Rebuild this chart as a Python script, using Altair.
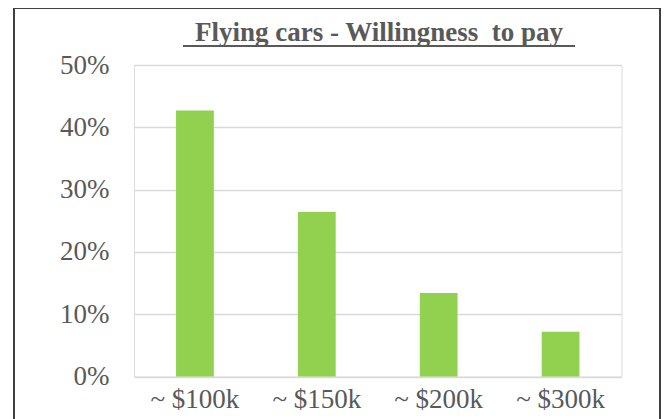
import altair as alt
import pandas as pd

categories = ["~ $100k", "~ $150k", "~ $200k", "~ $300k"]
values = [0.427, 0.264, 0.134, 0.072]
title_text = "Flying cars - Willingness\u00a0\u00a0to pay"
y_ticks = [0, 0.1, 0.2, 0.3, 0.4, 0.5]

df = pd.DataFrame({"price": categories, "share": values})

W, H = 487.5, 311.5
FONT = "Liberation Serif"
GREY = "#595959"

bars = alt.Chart(df).mark_bar(color="#92d050").encode(
    x=alt.X("price:N", sort=categories, title=None,
            scale=alt.Scale(paddingInner=0.69, paddingOuter=0.345),
            axis=alt.Axis(labelAngle=0, domain=False, ticks=False, labelPadding=10,
                          labelFont=FONT, labelFontSize=27, labelColor=GREY)),
    y=alt.Y("share:Q", title=None, scale=alt.Scale(domain=[0, 0.5], nice=False),
            axis=alt.Axis(values=y_ticks, format=".0%", domain=False, ticks=False,
                          labelPadding=25, labelFont=FONT, labelFontSize=27,
                          labelColor=GREY, gridColor="#d9d9d9", gridWidth=1.5)),
)

one = pd.DataFrame({"t": [title_text]})

frame = alt.Chart(one).mark_rect(
    fill="transparent", stroke="#404040", strokeWidth=2
).encode(x=alt.value(-120), x2=alt.value(526), y=alt.value(-57), y2=alt.value(430))

title = alt.Chart(one).mark_text(
    font=FONT, fontSize=27, fontWeight="bold", color=GREY,
    align="center", baseline="alphabetic"
).encode(text="t:N", x=alt.value(245), y=alt.value(-24.5))

underline = alt.Chart(one).mark_rule(
    color=GREY, strokeWidth=2
).encode(x=alt.value(49), x2=alt.value(441), y=alt.value(-19))

chart = alt.layer(frame, bars, title, underline).properties(
    width=W, height=H,
    autosize=alt.AutoSizeParams(type="none"),
    padding={"left": 126, "top": 57, "right": 39.5, "bottom": 42.5},
).configure_view(stroke="#d4d4d4", strokeWidth=2).configure(background="white")

chart.save("out.html", embed_options={"renderer": "svg", "actions": False})
